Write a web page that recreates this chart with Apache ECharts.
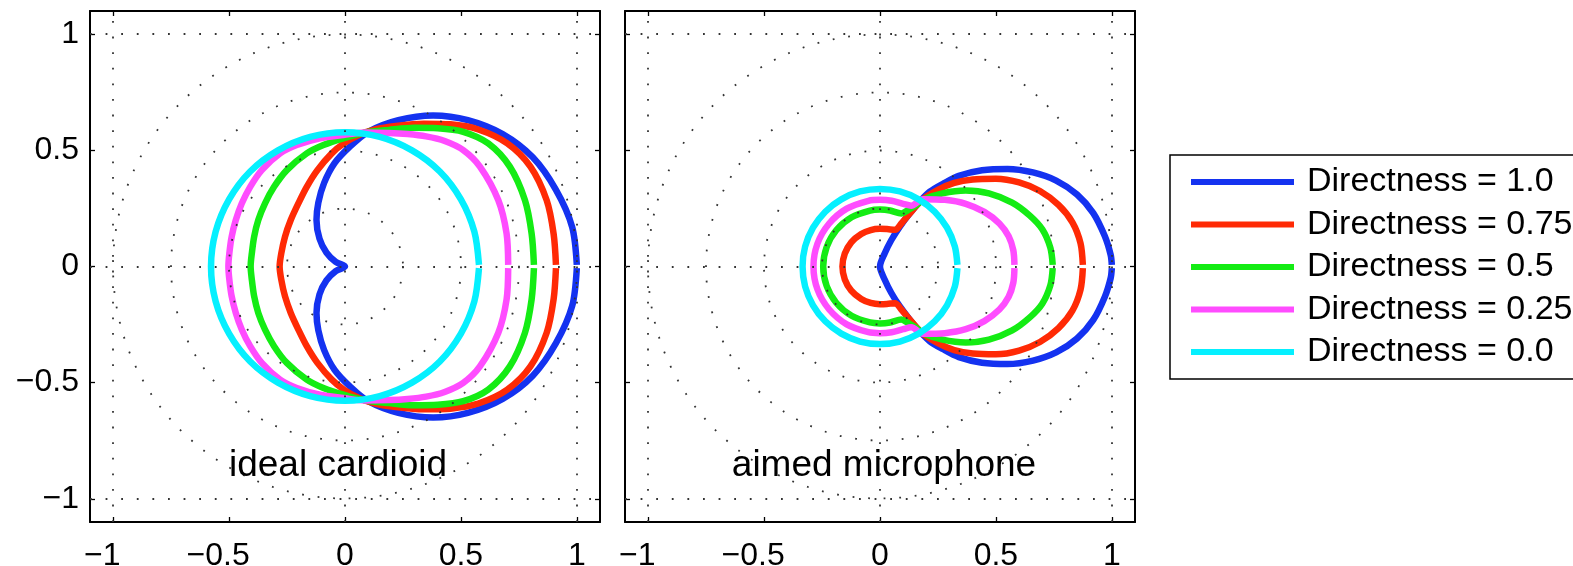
<!DOCTYPE html>
<html>
<head>
<meta charset="utf-8">
<title>ideal cardioid / aimed microphone</title>
<script src="https://cdn.jsdelivr.net/npm/echarts@6.0.0/dist/echarts.min.js"></script>
<style>
    html, body { margin: 0; padding: 0; background: #fff; }
    #main { width: 1573px; height: 566px; }
</style>
</head>
<body>
<div id="main"></div>
<script type="text/javascript">
    // tick labels, shared by both panels
    var tickValues = [-1, -0.5, 0, 0.5, 1];
    var gridLineValues = [-1, 0, 1];
    var ringValues = [0.25, 0.5, 0.75, 1];

    var seriesNames = ['Directness = 1.0', 'Directness = 0.75', 'Directness = 0.5', 'Directness = 0.25', 'Directness = 0.0'];
    var panelTitles = ['ideal cardioid', 'aimed microphone'];

    // upper halves [x, y], from the front (right) round to the back (left);
    // the patterns are symmetric about the x axis, the lower half is the mirror
    var cardioid100 = [[1.00,0.007],[0.98,0.17],[0.91,0.33],[0.81,0.47],[0.68,0.57],[0.53,0.63],[0.38,0.65],[0.23,0.63],[0.10,0.58],[0.02,0.515],[-0.045,0.445],[-0.09,0.36],[-0.115,0.275],[-0.123,0.20],[-0.11,0.12],[-0.08,0.06],[-0.04,0.02],[0,0]];
    var cardioid075 = [[0.91,0.007],[0.90,0.14],[0.87,0.285],[0.80,0.43],[0.70,0.53],[0.575,0.59],[0.455,0.612],[0.34,0.615],[0.22,0.605],[0.13,0.59],[0.06,0.566],[-0.005,0.53],[-0.057,0.487],[-0.119,0.415],[-0.165,0.343],[-0.201,0.272],[-0.234,0.20],[-0.259,0.128],[-0.275,0.056],[-0.282,0]];
    var cardioid050 = [[0.815,0.007],[0.805,0.142],[0.776,0.286],[0.711,0.43],[0.618,0.53],[0.51,0.58],[0.40,0.595],[0.30,0.597],[0.19,0.588],[0.085,0.576],[-0.007,0.552],[-0.093,0.523],[-0.165,0.487],[-0.251,0.415],[-0.306,0.343],[-0.345,0.272],[-0.374,0.20],[-0.392,0.128],[-0.402,0.056],[-0.407,0]];
    var cardioid025 = [[0.704,0.007],[0.697,0.142],[0.661,0.286],[0.582,0.43],[0.51,0.501],[0.43,0.54],[0.35,0.56],[0.27,0.57],[0.19,0.575],[0.085,0.577],[-0.007,0.566],[-0.108,0.552],[-0.208,0.523],[-0.28,0.487],[-0.359,0.415],[-0.409,0.343],[-0.445,0.272],[-0.471,0.20],[-0.489,0.128],[-0.499,0.056],[-0.503,0]];
    var cardioid000 = [[0.578,0.007],[0.558,0.15],[0.50,0.289],[0.409,0.409],[0.289,0.50],[0.15,0.558],[0,0.578],[-0.15,0.558],[-0.289,0.50],[-0.409,0.409],[-0.50,0.289],[-0.558,0.15],[-0.578,0]];

    var aimed100 = [[1.00,0.007],[0.995,0.05],[0.97,0.13],[0.92,0.23],[0.85,0.31],[0.76,0.37],[0.66,0.405],[0.55,0.42],[0.44,0.414],[0.34,0.39],[0.27,0.355],[0.215,0.322],[0.175,0.283],[0.128,0.228],[0.085,0.171],[0.049,0.114],[0.02,0.056],[0,0]];
    var aimed075 = [[0.875,0.007],[0.865,0.10],[0.83,0.19],[0.77,0.265],[0.69,0.325],[0.60,0.362],[0.50,0.378],[0.40,0.375],[0.32,0.36],[0.25,0.33],[0.18,0.285],[0.128,0.228],[0.092,0.185],[0.065,0.158],[0.03,0.161],[0,0.162],[-0.04,0.157],[-0.081,0.14],[-0.124,0.104],[-0.152,0.055],[-0.162,0]];
    var aimed050 = [[0.745,0.007],[0.735,0.08],[0.70,0.16],[0.645,0.22],[0.57,0.275],[0.47,0.315],[0.37,0.327],[0.27,0.315],[0.185,0.288],[0.157,0.264],[0.121,0.243],[0.092,0.228],[0.043,0.241],[0,0.245],[-0.043,0.241],[-0.1225,0.212],[-0.188,0.157],[-0.23,0.084],[-0.245,0]];
    var aimed025 = [[0.58,0.007],[0.575,0.07],[0.555,0.13],[0.515,0.185],[0.45,0.235],[0.37,0.27],[0.28,0.287],[0.185,0.29],[0.135,0.262],[0.10,0.27],[0.05,0.283],[0,0.287],[-0.05,0.283],[-0.1435,0.249],[-0.22,0.184],[-0.27,0.098],[-0.287,0]];
    var aimed000 = [[0.334,0.007],[0.323,0.086],[0.289,0.167],[0.236,0.236],[0.167,0.289],[0.086,0.323],[0,0.334],[-0.086,0.323],[-0.167,0.289],[-0.236,0.236],[-0.289,0.167],[-0.323,0.086],[-0.334,0]];

    var panelCurves = [
        [cardioid100, cardioid075, cardioid050, cardioid025, cardioid000],
        [aimed100, aimed075, aimed050, aimed025, aimed000]
    ];

    var colors = ['#1432f0', '#ff2a05', '#14ec14', '#ff4cff', '#05f0ff'];
    var font = '"Liberation Sans", Arial, Helvetica, sans-serif';
    var dotStyle = {color: '#333', width: 1.8, type: [1.8, 13.8]};

    // upper half + mirrored lower half
    function closeLoop(upper) {
        var lower = upper.slice(0, -1).reverse().map(function (p) {
            return [p[0], -p[1]];
        });
        return upper.concat(lower);
    }

    function tickText(v) {
        return v < 0 ? '\u2212' + Math.abs(v) : String(v);
    }

    var gridLeft = [90, 625];
    var grids = [], xAxes = [], yAxes = [], polars = [], angleAxes = [], radiusAxes = [], series = [];

    for (var p = 0; p < 2; p++) {
        grids.push({left: gridLeft[p], top: 11, width: 510, height: 511, containLabel: false, outerBoundsMode: 'none'});

        var frameLine = {show: true, onZero: false, lineStyle: {color: '#000', width: 2}};
        var ticks = {show: true, inside: true, length: 5, customValues: tickValues, lineStyle: {color: '#000', width: 1.3}};

        xAxes.push({
            gridIndex: p, type: 'value', position: 'bottom', min: -1.1, max: 1.1,
            axisLine: frameLine, axisTick: ticks, splitLine: {show: false},
            axisLabel: {
                show: true, customValues: tickValues, margin: 18,
                color: '#000', fontSize: 32, fontFamily: font,
                formatter: function (v) {
                    // minus signs hang out to the left of the tick
                    return v < 0 ? '{neg|' + tickText(v) + '}' : '{pos|' + tickText(v) + '}';
                },
                rich: {
                    neg: {fontSize: 32, fontFamily: font, color: '#000', padding: [0, 22, 0, 0]},
                    pos: {fontSize: 32, fontFamily: font, color: '#000'}
                }
            }
        });
        xAxes.push({
            gridIndex: p, type: 'value', position: 'top', min: -1.1, max: 1.1,
            axisLine: frameLine, axisTick: ticks, axisLabel: {show: false}, splitLine: {show: false}
        });
        yAxes.push({
            gridIndex: p, type: 'value', position: 'left', min: -1.1, max: 1.1,
            axisLine: frameLine, axisTick: ticks, splitLine: {show: false},
            axisLabel: {
                show: p === 0, customValues: tickValues, margin: 11,
                color: '#000', fontSize: 32, fontFamily: font, formatter: tickText
            }
        });
        yAxes.push({
            gridIndex: p, type: 'value', position: 'right', min: -1.1, max: 1.1,
            axisLine: frameLine, axisTick: ticks, axisLabel: {show: false}, splitLine: {show: false}
        });

        // dotted polar rings, same centre and scale as the cartesian grid
        polars.push({center: [gridLeft[p] + 255, 266.5], radius: 232});
        angleAxes.push({polarIndex: p, show: false});
        radiusAxes.push({
            polarIndex: p, min: 0, max: ringValues[ringValues.length - 1], interval: ringValues[0], z: 10,
            axisLine: {show: false}, axisTick: {show: false}, axisLabel: {show: false},
            splitLine: {show: true, lineStyle: dotStyle}
        });

        for (var i = 0; i < 5; i++) {
            series.push({
                name: seriesNames[i], type: 'line',
                xAxisIndex: p * 2, yAxisIndex: p * 2,
                data: closeLoop(panelCurves[p][i]),
                symbol: 'none', showSymbol: false, smooth: 0.3, silent: true,
                lineStyle: {width: 6.5, color: colors[i]},
                itemStyle: {color: colors[i]},
                z: 2
            });
        }

        // dotted lines at -1, 0, 1 across the whole frame, drawn over the curves
        var gl = [];
        gridLineValues.forEach(function (v) { gl.push({xAxis: v}); gl.push({yAxis: v}); });
        series.push({
            type: 'line', xAxisIndex: p * 2, yAxisIndex: p * 2, data: [], z: 10, silent: true,
            markLine: {
                symbol: ['none', 'none'], silent: true, animation: false,
                label: {show: false}, lineStyle: dotStyle, data: gl
            }
        });
    }

    var option = {
        animation: false,
        backgroundColor: '#fff',
        grid: grids,
        xAxis: xAxes,
        yAxis: yAxes,
        polar: polars,
        angleAxis: angleAxes,
        radiusAxis: radiusAxes,
        legend: {
            data: seriesNames,
            orient: 'vertical',
            left: 1170, top: 155,
            icon: 'rect', itemWidth: 103, itemHeight: 6, itemGap: 6.5,
            padding: [9, 40, 9, 21],
            borderColor: '#000', borderWidth: 1.5, backgroundColor: '#fff',
            selectedMode: false,
            textStyle: {fontSize: 34, fontFamily: font, color: '#000', lineHeight: 36, padding: [0, 0, 0, 8]}
        },
        graphic: [
            {type: 'text', x: 338, y: 466, z: 20,
                style: {text: panelTitles[0], fontSize: 37, fontFamily: font, fill: '#000',
                    align: 'center', verticalAlign: 'middle', textAlign: 'center', textVerticalAlign: 'middle'}},
            {type: 'text', x: 884, y: 466, z: 20,
                style: {text: panelTitles[1], fontSize: 37, fontFamily: font, fill: '#000',
                    align: 'center', verticalAlign: 'middle', textAlign: 'center', textVerticalAlign: 'middle'}}
        ],
        series: series
    };

    var myChart = echarts.init(document.getElementById('main'));
    myChart.setOption(option);
</script>
</body>
</html>
